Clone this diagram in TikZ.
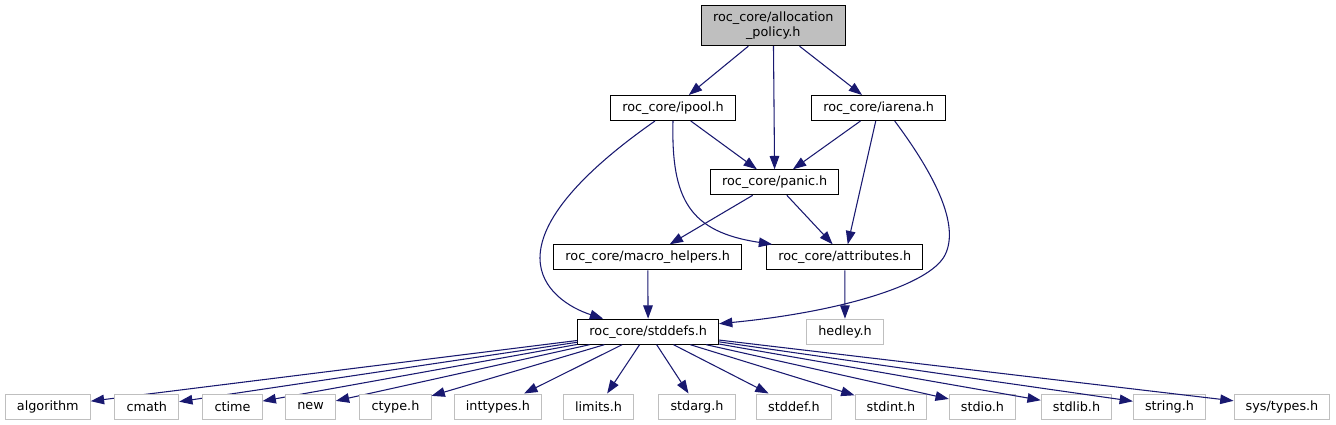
\documentclass[tikz,border=0pt]{standalone}
\usepackage{fontspec}
\setmainfont{DejaVu Sans}
\usetikzlibrary{arrows.meta,positioning,calc}
\definecolor{edgeblue}{HTML}{191970}
\definecolor{leafgray}{HTML}{BFBFBF}

\begin{document}
\begin{tikzpicture}[x=0.75pt,y=-0.75pt,
  font=\fontsize{9.6pt}{11.25pt}\selectfont,
  hfile/.style={draw=black,fill=white,line width=0.75pt,inner xsep=8.7pt,inner ysep=0pt,minimum height=18.75pt},
  sysfile/.style={hfile,draw=leafgray},
  topfile/.style={hfile,fill=leafgray,align=center,minimum height=30pt},
  dep/.style={-{Triangle[length=10pt,width=7.2pt]},draw=edgeblue,line width=0.8pt}]
\useasboundingbox (0,0) rectangle (1336,425);
% ---- header nodes ----
\node[topfile] (alloc) at (773.3,25.7) {roc\_core/allocation\\\_policy.h};
\node[hfile] (ipool) at (673,108) {roc\_core/ipool.h};
\node[hfile] (iarena) at (878.7,108) {roc\_core/iarena.h};
\node[hfile] (panic) at (774.7,182.3) {roc\_core/panic.h};
\node[hfile] (macro) at (647.7,257.3) {roc\_core/macro\_helpers.h};
\node[hfile] (attrib) at (844.8,257.3) {roc\_core/attributes.h};
\node[hfile] (stddefs) at (648.2,331.7) {roc\_core/stddefs.h};
\node[sysfile] (hedley) at (845,331.7) {hedley.h};
% ---- includes ----
\draw[dep] (alloc) -- (ipool);
\draw[dep] (alloc) -- (panic);
\draw[dep] (alloc) -- (iarena);
\draw[dep] (ipool) -- (panic);
\draw[dep] (iarena) -- (panic);
\draw[dep] (iarena) -- (attrib);
\draw[dep] (panic) -- (macro);
\draw[dep] (panic) -- (attrib);
\draw[dep] (macro) -- (stddefs);
\draw[dep] (attrib) -- (hedley);
\draw[dep] ($(ipool.south)+(-18,0)$) .. controls (592,165) and (540,215) .. (540,258)
  .. controls (540,290) and (570,308) .. ($(stddefs.north)+(-45,0)$);
\draw[dep] (ipool.south) .. controls (671,200) and (690,232) .. ($(attrib.north west)+(6,0)$);
\draw[dep] ($(iarena.south)+(16,0)$) .. controls (935,175) and (960,225) .. (945,255)
  .. controls (930,285) and (840,312) .. ($(stddefs.east)+(0,-8)$);
% ---- system headers ----
\foreach \name/\x/\txt in {algorithm/47.8/algorithm, cmath/146.8/cmath, ctime/232.5/ctime,
    new/310.5/new, ctype/395.5/ctype.h, inttypes/498/inttypes.h, limits/598.5/limits.h,
    stdarg/697/stdarg.h, stddef/794/stddef.h, stdint/891/stdint.h, stdio/982.5/stdio.h,
    stdlib/1076.5/stdlib.h, string/1169.5/string.h, systypes/1282/{sys/types.h}}{
  \node[sysfile] (\name) at (\x,406.5) {\txt};
  \draw[dep] (stddefs) -- (\name);
}
\end{tikzpicture}
\end{document}
